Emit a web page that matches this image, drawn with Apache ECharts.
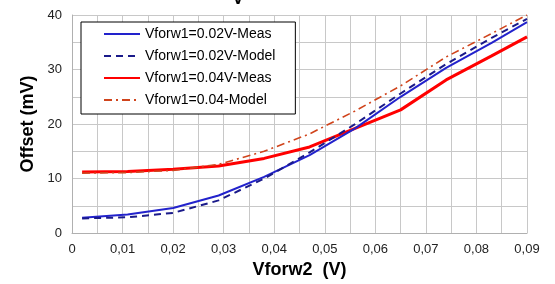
<!DOCTYPE html>
<html><head><meta charset="utf-8">
<script src="https://cdn.jsdelivr.net/npm/echarts@6/dist/echarts.min.js"></script>
<style>html,body{margin:0;padding:0;background:#fff}#c{width:555px;height:284px}</style>
</head><body><div id="c"></div>
<script>
var xs = [0.002, 0.011, 0.02, 0.029, 0.038, 0.047, 0.056, 0.065, 0.074, 0.083, 0.09];
var meas02 = [2.8, 3.4, 4.6, 6.9, 10.3, 14.3, 19.2, 25.0, 30.3, 34.9, 38.7];
var model02 = [2.7, 2.9, 3.7, 6.0, 10.0, 14.8, 20.0, 25.6, 31.0, 35.8, 39.3];
var meas04 = [11.2, 11.3, 11.7, 12.3, 13.7, 15.8, 19.2, 22.6, 28.1, 32.5, 36.0];
var model04 = [11.0, 11.1, 11.5, 12.6, 15.0, 18.2, 22.4, 27.0, 32.3, 36.6, 40.0];
var names = ['Vforw1=0.02V-Meas', 'Vforw1=0.02V-Model', 'Vforw1=0.04V-Meas', 'Vforw1=0.04-Model'];

function pairs(a){ return xs.map(function(x,i){ return [x, a[i]]; }); }
var font = 'Liberation Sans, Arial, sans-serif';
var grid = '#c8c8c8';
var chart = echarts.init(document.getElementById('c'), null, {renderer:'canvas'});
chart.setOption({
  animation:false,
  backgroundColor:'#fff',
  grid:{left:72, right:28, top:15, bottom:50, containLabel:false},
  graphic:[{type:'text', left:232, top:-10, z:100, style:{text:'V', font:'bold 18px '+font, fill:'#000'}}],
  legend:{
    orient:'vertical', left:81, top:22,
    backgroundColor:'#fff', borderColor:'#000', borderWidth:1,
    padding:[5,20,7,22], itemGap:8, itemWidth:36, itemHeight:14,
    itemStyle:{opacity:0},
    textStyle:{fontFamily:font, fontSize:14, color:'#000'},
    data:names
  },
  xAxis:{type:'value', min:0, max:0.09, interval:0.005,
    axisLine:{show:true, lineStyle:{color:'#b0b0b0'}}, axisTick:{show:false},
    axisLabel:{margin:10, fontFamily:font, fontSize:13, color:'#222',
      formatter:function(v){ var k=Math.round(v*1000); if(k%10!==0) return ''; return k===0?'0':(v.toFixed(2).replace('.',',')); }},
    splitLine:{show:true, lineStyle:{color:grid, width:1}},
    name:'Vforw2  (V)', nameLocation:'middle', nameGap:27,
    nameTextStyle:{fontFamily:font, fontSize:18, fontWeight:'bold', color:'#000'}},
  yAxis:{type:'value', min:0, max:40, interval:5,
    axisLine:{show:true, lineStyle:{color:'#b0b0b0'}}, axisTick:{show:false},
    axisLabel:{margin:10, fontFamily:font, fontSize:13, color:'#222',
      formatter:function(v){ return v%10===0 ? String(v) : ''; }},
    splitLine:{show:true, lineStyle:{color:grid, width:1}},
    name:'Offset (mV)', nameLocation:'middle', nameGap:32,
    nameTextStyle:{fontFamily:font, fontSize:18, fontWeight:'bold', color:'#000'}},
  series:[
    {name:names[0], type:'line', data:pairs(meas02), symbol:'none', z:3,
      lineStyle:{color:'#2222cc', width:2, type:'solid'}, itemStyle:{color:'#2222cc'}},
    {name:names[1], type:'line', data:pairs(model02), symbol:'none', z:4,
      lineStyle:{color:'#1a1a8a', width:2, type:[7,5]}, itemStyle:{color:'#1a1a8a'}},
    {name:names[2], type:'line', data:pairs(meas04), symbol:'none', z:2,
      lineStyle:{color:'#ff0000', width:3, type:'solid'}, itemStyle:{color:'#ff0000'}},
    {name:names[3], type:'line', data:pairs(model04), symbol:'none', z:5,
      lineStyle:{color:'#d0441c', width:1.6, type:[8,4,2,4]}, itemStyle:{color:'#d0441c'}}
  ]
});
</script></body></html>
